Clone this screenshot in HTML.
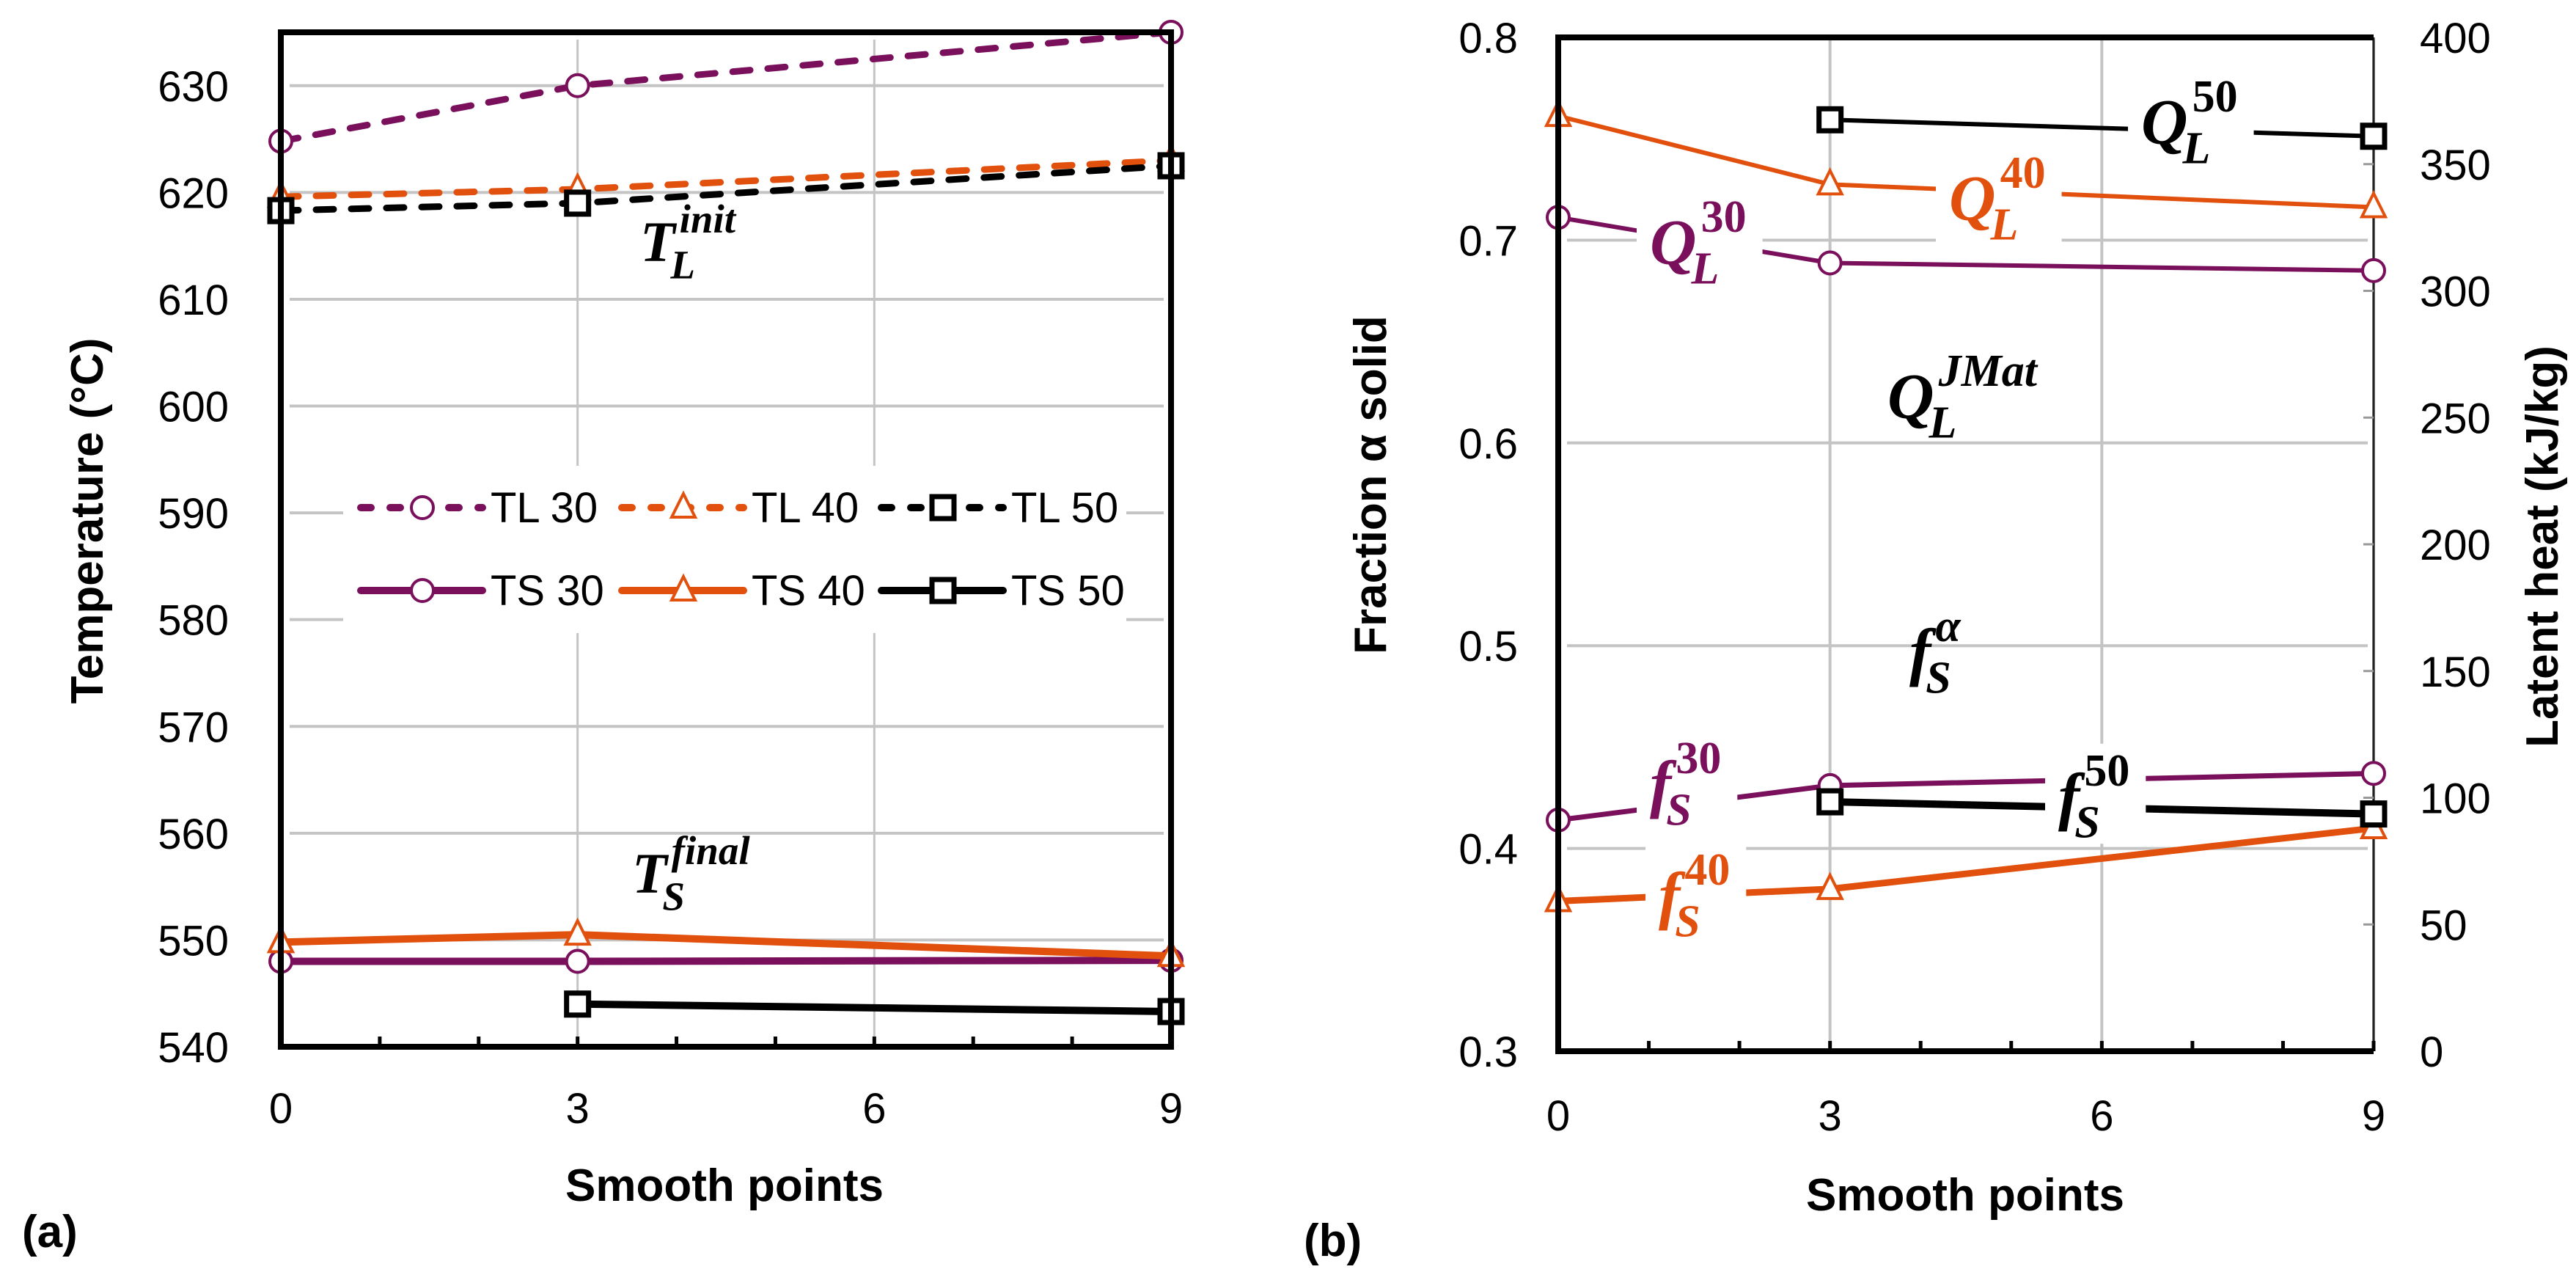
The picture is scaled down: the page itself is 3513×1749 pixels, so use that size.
<!DOCTYPE html>
<html><head><meta charset="utf-8"><style>
html,body{margin:0;padding:0;background:#fff;}
svg{display:block;}
.tk{font-family:"Liberation Sans Narrow","Liberation Sans",sans-serif;font-size:58px;fill:#000;}
.tt{font-family:"Liberation Sans",sans-serif;font-size:62px;font-weight:bold;fill:#000;}
.mt{font-family:"Liberation Serif",serif;font-weight:bold;font-style:italic;}
.mu{font-family:"Liberation Serif",serif;font-weight:bold;}
</style></head><body>
<svg id="fig" width="3513" height="1749" viewBox="0 0 3513 1749" xmlns="http://www.w3.org/2000/svg">
<rect x="0" y="0" width="3513" height="1749" fill="#fff"/>
<g id="chartA"></g>
<g id="chartB"></g>
</svg>
<script>
// ---------- data ----------
const xCats = [0, 3, 9];
const xTicks = [0, 3, 6, 9];
const tempTicks = [540, 550, 560, 570, 580, 590, 600, 610, 620, 630];
const TL30 = [624.8, 630, 635];
const TL40 = [619.6, 620.3, 623];
const TL50 = [618.3, 619, 622.5];
const TS30 = [548.0, 548.0, 548.1];
const TS40 = [549.8, 550.5, 548.5];
const TS50 = [null, 544.0, 543.3];
const fracTicks = [0.3, 0.4, 0.5, 0.6, 0.7, 0.8];
const heatTicks = [0, 50, 100, 150, 200, 250, 300, 350, 400];
const fS30 = [0.414, 0.431, 0.437];
const fS40 = [0.374, 0.380, 0.410];
const fS50 = [null, 0.423, 0.417];
const QL30 = [329, 311, 308];
const QL40 = [369, 342, 333];
const QL50 = [null, 367.5, 361];

const NS = "http://www.w3.org/2000/svg";
const PURPLE = "#7a0f5c", ORANGE = "#e2500e", GRID = "#c4c4c4";
function mk(parent, tag, attrs) {
  const e = document.createElementNS(NS, tag);
  for (const k in attrs) e.setAttribute(k, attrs[k]);
  parent.appendChild(e);
  return e;
}
function marker(g, type, x, y, color) {
  let m;
  if (type === "circle") m = mk(g, "circle", {cx: x, cy: y, r: 15, fill: "#fff", stroke: color, "stroke-width": 4});
  else if (type === "tri") m = mk(g, "path", {d: `M${x} ${y-19} L${x+16} ${y+13} L${x-16} ${y+13} Z`, fill: "#fff", stroke: color, "stroke-width": 4});
  else m = mk(g, "rect", {x: x-15, y: y-15, width: 30, height: 30, fill: "#fff", stroke: color, "stroke-width": 7});
  
  
  return m;
}
function series(g, name, vals, xs, ys, color, type, dashed, w) {
  const sg = mk(g, "g", {});
  
  
  let d = "";
  vals.forEach((v, i) => { if (v == null) return; d += (d ? "L" : "M") + xs(xCats[i]) + " " + ys(v) + " "; });
  const p = mk(sg, "path", {d: d, fill: "none", stroke: color, "stroke-width": w, "stroke-linecap": dashed ? "round" : "butt"});
  if (dashed) p.setAttribute("stroke-dasharray", "24 24");
  
  
  vals.forEach((v, i) => { if (v == null) return; marker(sg, type, xs(xCats[i]), ys(v), color); });
}
function mathLabel(g, name, x, y, main, sub, sup, color, size, bg) {
  const lg = mk(g, "g", {});
  
  
  const s2 = Math.round(size * 0.7);
  const t = mk(lg, "text", {x: x, y: y, class: "mt", fill: color, "font-size": size});
  t.textContent = main;
  const w = t.getComputedTextLength();
  const supCls = /^[0-9]+$/.test(sup) ? "mu" : "mt";
  const t1 = mk(lg, "text", {x: x + w + 6, y: y - size * 0.5, class: supCls, fill: color, "font-size": s2});
  t1.textContent = sup;
  const t2 = mk(lg, "text", {x: x + w - size * 0.08, y: y + size * 0.3, class: "mt", fill: color, "font-size": s2});
  t2.textContent = sub;
  if (bg) {
    const wsup = t1.getComputedTextLength(), wsub = t2.getComputedTextLength();
    const r = mk(lg, "rect", {x: x - 18, y: y - size * 1.15, width: w + Math.max(wsup + 6, wsub) + 40, height: size * 1.55, fill: "#fff"});
    lg.insertBefore(r, t);
  }
}

// ---------- chart A ----------
(function () {
  const g = document.getElementById("chartA");
  const X0 = 383, X1 = 1597, Y0 = 1427, Y1 = 44;
  const xs = v => X0 + (v - 0) / 9 * (X1 - X0);
  const ys = v => Y0 - (v - 540) / (635 - 540) * (Y0 - Y1);
  tempTicks.forEach(t => { if (t === 540) return;
    const l = mk(g, "line", {x1: X0 + 12, x2: X1 - 10, y1: ys(t), y2: ys(t), stroke: GRID, "stroke-width": 4});
      });
  xTicks.forEach(t => { if (t === 0 || t === 9) return;
    const l = mk(g, "line", {x1: xs(t), x2: xs(t), y1: Y1 + 10, y2: Y0, stroke: GRID, "stroke-width": 3});
      });
  const lb = mk(g, "rect", {x: 468, y: 635, width: 1068, height: 228, fill: "#fff"});
   
  series(g, "series-ts30", TS30, xs, ys, PURPLE, "circle", false, 10);
  series(g, "series-ts40", TS40, xs, ys, ORANGE, "tri", false, 10);
  series(g, "series-ts50", TS50, xs, ys, "#000", "square", false, 10);
  series(g, "series-tl40", TL40, xs, ys, ORANGE, "tri", true, 9);
  series(g, "series-tl50", TL50, xs, ys, "#000", "square", true, 9);
  series(g, "series-tl30", TL30, xs, ys, PURPLE, "circle", true, 9);
  const fr = mk(g, "rect", {x: X0, y: Y1, width: X1 - X0, height: Y0 - Y1, fill: "none", stroke: "#000", "stroke-width": 8});
   
  for (let i = 1; i < 9; i++) { const tk = mk(g, "line", {x1: xs(i), x2: xs(i), y1: Y0, y2: Y0 - 14, stroke: "#000", "stroke-width": 5});
      }
  tempTicks.forEach(t => { const tx = mk(g, "text", {x: 312, y: ys(t) + 21, class: "tk", "text-anchor": "end"}); tx.textContent = t;
      });
  xTicks.forEach(t => { const tx = mk(g, "text", {x: xs(t), y: 1531, class: "tk", "text-anchor": "middle"}); tx.textContent = t;
      });
  const xt = mk(g, "text", {x: 988, y: 1637, class: "tt", "text-anchor": "middle"}); xt.textContent = "Smooth points";
   
  const yt = mk(g, "text", {x: 0, y: 0, class: "tt", "text-anchor": "middle", transform: "translate(140,710) rotate(-90)"}); yt.textContent = "Temperature (°C)";
   
  const pl = mk(g, "text", {x: 30, y: 1700, class: "tt", "font-size": 72}); pl.textContent = "(a)";
   
  const legItems = [
    ["TL 30", PURPLE, "circle", true, 0, 0], ["TL 40", ORANGE, "tri", true, 1, 0], ["TL 50", "#000", "square", true, 2, 0],
    ["TS 30", PURPLE, "circle", false, 0, 1], ["TS 40", ORANGE, "tri", false, 1, 1], ["TS 50", "#000", "square", false, 2, 1]];
  const colX = [492, 848, 1202], rowY = [692, 805];
  legItems.forEach(it => {
    const lg = mk(g, "g", {});
     
    const x = colX[it[4]], y = rowY[it[5]];
    const ln = mk(lg, "line", {x1: x, x2: x + 166, y1: y, y2: y, stroke: it[1], "stroke-width": 10, "stroke-linecap": "round"});
    if (it[3]) ln.setAttribute("stroke-dasharray", "14 26");
    marker(lg, it[2], x + 84, y, it[1]);
    const tx = mk(lg, "text", {x: x + 177, y: y + 20, class: "tk", "font-size": 54}); tx.textContent = it[0];
  });
  mathLabel(g, "annotation-tl-init", 873, 356, "T", "L", "init", "#000", 78, false);
  mathLabel(g, "annotation-ts-final", 862, 1217, "T", "S", "final", "#000", 78, false);
})();

// ---------- chart B ----------
(function () {
  const g = document.getElementById("chartB");
  const X0 = 2125, X1 = 3237, Y0 = 1433, Y1 = 51;
  const xs = v => X0 + v / 9 * (X1 - X0);
  const yl = v => Y0 - (v - 0.3) / 0.5 * (Y0 - Y1);
  const yr = v => Y0 - v / 400 * (Y0 - Y1);
  fracTicks.forEach(t => { if (t === 0.3 || t === 0.8) return;
    const l = mk(g, "line", {x1: X0 + 12, x2: X1 - 8, y1: yl(t), y2: yl(t), stroke: GRID, "stroke-width": 4});
      });
  xTicks.forEach(t => { if (t === 0) return;
    const l = mk(g, "line", {x1: xs(t), x2: xs(t), y1: Y1 + 4, y2: Y0, stroke: GRID, "stroke-width": 4});
      });
  const ra = mk(g, "line", {x1: X1, x2: X1, y1: Y1, y2: Y0, stroke: "#222", "stroke-width": 3});
   
  heatTicks.forEach(t => { const tk = mk(g, "line", {x1: X1 - 14, x2: X1, y1: yr(t), y2: yr(t), stroke: "#999", "stroke-width": 3});
      });
  series(g, "series-fs40", fS40, xs, yl, ORANGE, "tri", false, 9);
  series(g, "series-fs30", fS30, xs, yl, PURPLE, "circle", false, 7);
  series(g, "series-fs50", fS50, xs, yl, "#000", "square", false, 10);
  series(g, "series-ql30", QL30, xs, yr, PURPLE, "circle", false, 6);
  series(g, "series-ql40", QL40, xs, yr, ORANGE, "tri", false, 6);
  series(g, "series-ql50", QL50, xs, yr, "#000", "square", false, 6);
  const fr = mk(g, "path", {d: `M${X1} ${Y1} L${X0} ${Y1} L${X0} ${Y0} L${X1} ${Y0}`, fill: "none", stroke: "#000", "stroke-width": 8});
   
  for (let i = 1; i <= 9; i++) { const tk = mk(g, "line", {x1: xs(i), x2: xs(i), y1: Y0, y2: Y0 - 14, stroke: "#000", "stroke-width": 5});
      }
  fracTicks.forEach(t => { const tx = mk(g, "text", {x: 2070, y: yl(t) + 21, class: "tk", "text-anchor": "end"}); tx.textContent = t.toFixed(1);
      });
  heatTicks.forEach(t => { const tx = mk(g, "text", {x: 3300, y: yr(t) + 21, class: "tk"}); tx.textContent = t;
      });
  xTicks.forEach(t => { const tx = mk(g, "text", {x: xs(t), y: 1541, class: "tk", "text-anchor": "middle"}); tx.textContent = t;
      });
  const xt = mk(g, "text", {x: 2680, y: 1650, class: "tt", "text-anchor": "middle"}); xt.textContent = "Smooth points";
   
  const yt = mk(g, "text", {x: 0, y: 0, class: "tt", "text-anchor": "middle", transform: "translate(1890,661) rotate(-90)"}); yt.textContent = "Fraction α solid";
   
  const yt2 = mk(g, "text", {x: 0, y: 0, class: "tt", "text-anchor": "middle", transform: "translate(3488,745) rotate(-90)"}); yt2.textContent = "Latent heat (kJ/kg)";
   
  const pl = mk(g, "text", {x: 1778, y: 1712, class: "tt", "font-size": 72}); pl.textContent = "(b)";
   
  mathLabel(g, "label-ql50", 2920, 196, "Q", "L", "50", "#000", 88, true);
  mathLabel(g, "label-ql40", 2658, 300, "Q", "L", "40", ORANGE, 88, true);
  mathLabel(g, "label-ql30", 2250, 360, "Q", "L", "30", PURPLE, 88, true);
  mathLabel(g, "label-ql-jmat", 2574, 570, "Q", "L", "JMat", "#000", 88, false);
  mathLabel(g, "label-fs-alpha", 2604, 918, "f", "S", "α", "#000", 88, false);
  mathLabel(g, "label-fs30", 2250, 1098, "f", "S", "30", PURPLE, 88, true);
  mathLabel(g, "label-fs50", 2807, 1115, "f", "S", "50", "#000", 88, true);
  mathLabel(g, "label-fs40", 2262, 1250, "f", "S", "40", ORANGE, 88, true);
})();
</script>
</body></html>
